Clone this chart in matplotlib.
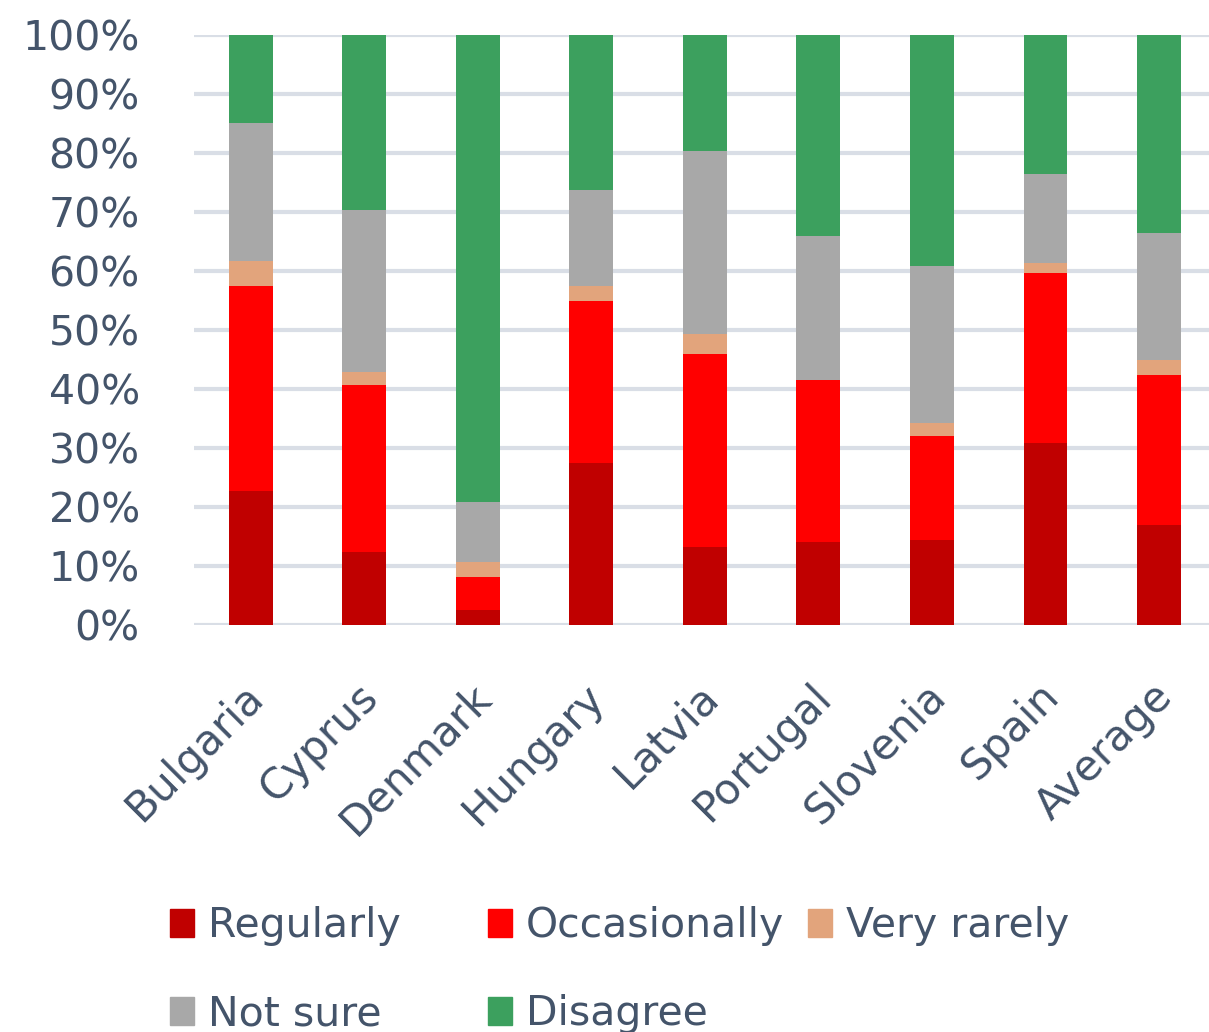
import numpy as np
import matplotlib
matplotlib.use("Agg")
import matplotlib.pyplot as plt
import matplotlib.transforms as mtransforms
from matplotlib.patches import Rectangle

countries = ["Bulgaria", "Cyprus", "Denmark", "Hungary", "Latvia",
             "Portugal", "Slovenia", "Spain", "Average"]

regularly = [22.7, 12.3, 2.5, 27.4, 13.2, 14.1, 14.4, 30.8, 17.0]
occasionally = [34.7, 28.4, 5.6, 27.5, 32.7, 27.5, 17.7, 28.9, 25.4]
very_rarely = [4.3, 2.1, 2.5, 2.5, 3.4, 0.0, 2.1, 1.6, 2.6]
not_sure = [23.3, 27.5, 10.3, 16.4, 31.0, 24.4, 26.7, 15.1, 21.4]
disagree = [15.0, 29.7, 79.1, 26.2, 19.7, 34.0, 39.1, 23.6, 33.6]

series = [
    ("Regularly", regularly, "#C00000"),
    ("Occasionally", occasionally, "#FF0000"),
    ("Very rarely", very_rarely, "#E2A47C"),
    ("Not sure", not_sure, "#A8A8A8"),
    ("Disagree", disagree, "#3CA05E"),
]

W, H = 1209, 1032
text_col = "#44546A"
fs = 29.5

fig = plt.figure(figsize=(W / 100, H / 100), dpi=100)
ax = fig.add_axes([194 / W, 1 - 625 / H, 1 - 194 / W, (625 - 35) / H])

x = np.arange(len(countries))
bottom = np.zeros(len(countries))
for name, vals, col in series:
    vals = np.array(vals)
    ax.bar(x, vals, 0.387, bottom=bottom, color=col, edgecolor="none", zorder=2)
    bottom += vals

ax.set_xlim(-0.5, 8.44)
ax.set_ylim(0, 100)
ax.set_yticks(np.arange(0, 101, 10))
ax.set_yticklabels([f"{v}%" for v in range(0, 101, 10)])
ax.yaxis.grid(True, color="#D9DEE6", linewidth=3, zorder=0)
ax.set_axisbelow(True)
for s in ax.spines.values():
    s.set_visible(False)
ax.tick_params(axis="y", length=0, pad=39, labelsize=fs, labelcolor=text_col)
ax.tick_params(axis="x", length=0, pad=36, labelsize=30.5, labelcolor=text_col)
ax.set_xticks(x)
ax.set_xticklabels(countries, rotation=45, ha="right", rotation_mode="anchor")
shift = mtransforms.ScaledTranslation(-8 / 100, 0, fig.dpi_scale_trans)
for lab in ax.get_xticklabels():
    lab.set_transform(lab.get_transform() + shift)

# legend laid out in fixed columns, row by row
legend_pos = [(170, 937), (488, 937), (808, 937), (170, 1025), (488, 1025)]
for (name, vals, col), (px, py) in zip(series, legend_pos):
    fig.add_artist(Rectangle((px / W, 1 - py / H), 24 / W, 28 / H,
                             transform=fig.transFigure, color=col))
    fig.text((px + 38) / W, 1 - py / H, name, fontsize=fs, color=text_col,
             va="baseline", ha="left")

fig.savefig("out.png", dpi=100)
